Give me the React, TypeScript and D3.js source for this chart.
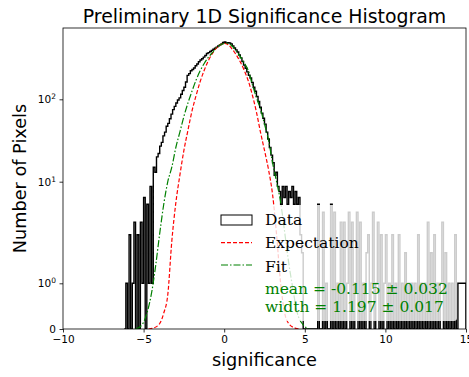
import React, { useEffect, useRef } from "react";
import * as d3 from "d3";

// histogram: bins of 0.1 in significance
const binWidth = 0.1;
const coreStart = -6.2;
const coreCounts = [
  0, 1, 0, 3, 0, 1, 4, 0, 3, 0,
  4, 1, 7, 0, 6, 1, 9, 1, 15, 13,
  20, 22, 27, 30, 36, 40, 47, 51, 58, 66,
  75, 82, 90, 98, 104, 115, 128, 140, 162, 195,
  205, 222, 230, 240, 255, 268, 285, 300, 310, 325,
  340, 360, 368, 380, 392, 405, 418, 430, 445, 458,
  470, 488, 496, 480, 486, 482, 470, 445, 420, 398,
  375, 345, 318, 288, 260, 238, 215, 196, 181, 160,
  140, 125, 108, 94, 80, 68, 59, 50, 40, 33,
  26, 21, 17, 12, 13, 9, 8, 6, 9, 7,
  9, 6, 8, 7, 9, 6, 8, 6, 7, 3,
  2, 0,
];
const tailStart = 5.0;
const tailCounts = [
  0, 0, 0, 0, 0, 0, 0, 0, 6, 0,
  0, 5, 0, 1, 0, 0, 6, 0, 5, 0,
  1, 0, 4, 0, 4, 0, 1, 5, 0, 4,
  0, 1, 5, 0, 4, 0, 1, 0, 2, 3,
  0, 1, 5, 0, 1, 4, 0, 3, 0, 1,
  3, 0, 1, 0, 3, 0, 1, 0, 3, 0,
  1, 0, 2, 0, 1, 0, 1, 0, 1, 0,
  3, 0, 1, 0, 1, 0, 4, 0, 2, 0,
  3, 0, 1, 0, 1, 4, 0, 2, 0, 1,
  0, 1, 0, 3, 0, 1, 1, 1, 1, 1,
];

// expectation curve (red)
const expectX = [-4.7, -4.4, -4.0, -3.75, -3.5, -3.25, -3.0, -2.75, -2.5, -2.25, -2.0, -1.75, -1.5, -1.25, -1.0, -0.75, -0.5, -0.25, 0,
  0.25, 0.5, 0.75, 1.0, 1.25, 1.5, 1.75, 2.0, 2.25, 2.5, 2.75, 3.0, 3.25, 3.5, 3.75, 4.0, 4.4, 4.7];
const expectY = [0, 0.02, 0.12, 0.35, 0.75, 2.6, 6.2, 12, 24, 42, 72, 110, 162, 222, 290, 355, 415, 455, 478,
  460, 405, 345, 283, 222, 166, 112, 70, 40, 24, 14, 7.5, 3, 1.0, 0.35, 0.12, 0.02, 0];

// fit curve (green)
const fitX = [-5.5, -5.1, -4.75, -4.5, -4.25, -4.0, -3.75, -3.5, -3.25, -3.0, -2.75, -2.5, -2.25, -2.0, -1.75, -1.5, -1.25, -1.0, -0.75, -0.5, -0.25, 0,
  0.25, 0.5, 0.75, 1.0, 1.25, 1.5, 1.75, 2.0, 2.25, 2.5, 2.75, 3.0, 3.25, 3.5, 3.75, 4.0, 4.25, 4.5, 4.9, 5.3];
const fitY = [0, 0.09, 0.4, 0.8, 1.5, 3.1, 6, 10, 15, 26, 40, 62, 90, 125, 170, 220, 270, 320, 365, 420, 456, 475,
  478, 440, 385, 330, 275, 222, 150, 105, 76, 50, 32, 17, 10, 6.3, 3.2, 1.6, 0.9, 0.4, 0.09, 0];

const xTicks = [-10, -5, 0, 5, 10, 15];
const yTicks = [0, 1, 10, 100];
const legendNames = ["Data", "Expectation", "Fit"];
const fitText = ["mean = -0.115 ± 0.032", "width = 1.197 ± 0.017"];

const W = 469;
const H = 377;
const margin = { top: 28, right: 3, bottom: 48, left: 63 };

function App() {
  const ref = useRef<SVGSVGElement>(null);

  useEffect(() => {
    const root = d3.select(ref.current);
    root.selectAll("*").remove();
    const iw = W - margin.left - margin.right;
    const ih = H - margin.top - margin.bottom;
    const sans = "DejaVu Sans";
    const serif = "DejaVu Serif";

    const x = d3.scaleLinear().domain([-10, 15]).range([0, iw]);
    // symlog-like axis: linear below 1, log above
    const symT = (v: number) => (v <= 1 ? Math.max(0, v) : 1 + Math.log10(v));
    const yLin = d3
      .scaleLinear()
      .domain([0, 1, 2, 3, 3.865])
      .range([ih, ih - 45.7, ih - 147.3, ih - 229.7, 0]);
    const y = (v: number) => yLin(symT(v));

    const svg = root.append("g").attr("transform", `translate(${margin.left},${margin.top})`);

    svg
      .append("defs")
      .append("clipPath")
      .attr("id", "plotclip")
      .append("rect")
      .attr("width", iw)
      .attr("height", ih);

    const plot = svg.append("g").attr("clip-path", "url(#plotclip)");

    // histogram outline (step)
    const bins = [
      ...coreCounts.map((c, i) => ({ x0: coreStart + i * binWidth, c })),
      ...tailCounts.map((c, i) => ({ x0: tailStart + i * binWidth, c })),
    ];
    const pts: [number, number][] = [[bins[0].x0, 0]];
    bins.forEach((b) => {
      pts.push([b.x0, b.c]);
      pts.push([b.x0 + binWidth, b.c]);
    });
    pts.push([bins[bins.length - 1].x0 + binWidth, 0]);
    const stepLine = d3
      .line<[number, number]>()
      .x((d) => x(d[0]))
      .y((d) => y(d[1]));
    plot
      .append("path")
      .attr("d", stepLine(pts))
      .attr("fill", "none")
      .attr("stroke", "black")
      .attr("stroke-width", 1.4);

    const expLine = d3
      .line<number>()
      .x((d) => x(expectX[d]))
      .y((d) => y(expectY[d]))
      .curve(d3.curveMonotoneX);
    plot
      .append("path")
      .attr("d", expLine(d3.range(expectX.length)))
      .attr("fill", "none")
      .attr("stroke", "#ff0000")
      .attr("stroke-width", 1.2)
      .attr("stroke-dasharray", "4,2");

    const fitLine = d3
      .line<number>()
      .x((d) => x(fitX[d]))
      .y((d) => y(fitY[d]))
      .curve(d3.curveMonotoneX);
    plot
      .append("path")
      .attr("d", fitLine(d3.range(fitX.length)))
      .attr("fill", "none")
      .attr("stroke", "#008000")
      .attr("stroke-width", 1.2)
      .attr("stroke-dasharray", "7,2,1.5,2");

    // axes
    const xAxis = svg
      .append("g")
      .attr("transform", `translate(0,${ih})`)
      .call(d3.axisBottom(x).tickValues(xTicks).tickSize(3.5).tickFormat((d) => String(d).replace("-", "\u2212")));
    xAxis.selectAll("text").attr("font-family", sans).attr("font-size", 10.5).attr("fill", "black").attr("dy", "0.75em");

    const yAxis = svg
      .append("g")
      .call(d3.axisLeft(yLin).tickValues(yTicks.map(symT)).tickSize(3.5).tickFormat(() => ""));
    yAxis
      .selectAll(".tick")
      .append("text")
      .attr("x", -7)
      .attr("dy", "0.35em")
      .attr("text-anchor", "end")
      .attr("font-family", sans)
      .attr("font-size", 10.5)
      .attr("fill", "black")
      .each(function (_d, i) {
        const t = d3.select(this);
        const v = yTicks[i];
        if (v === 0) {
          t.text("0");
        } else {
          t.append("tspan").text("10");
          t.append("tspan").attr("font-size", 7.5).attr("dy", "-0.55em").text(String(Math.round(Math.log10(v))));
        }
      });
    svg.selectAll(".tick line").attr("stroke", "black").attr("stroke-width", 0.8);
    svg.selectAll(".domain").remove();

    // frame
    svg
      .append("rect")
      .attr("width", iw)
      .attr("height", ih)
      .attr("fill", "none")
      .attr("stroke", "black")
      .attr("stroke-width", 0.8);

    // legend
    const lg = svg.append("g").attr("transform", `translate(${215 - margin.left},${205 - margin.top})`);
    lg.append("rect")
      .attr("width", 242)
      .attr("height", 116)
      .attr("rx", 3)
      .attr("fill", "white")
      .attr("fill-opacity", 0.8);
    lg.append("rect")
      .attr("x", 6)
      .attr("y", 10)
      .attr("width", 31)
      .attr("height", 10)
      .attr("fill", "white")
      .attr("stroke", "black")
      .attr("stroke-width", 1);
    lg.append("line")
      .attr("x1", 6)
      .attr("x2", 37)
      .attr("y1", 37.7)
      .attr("y2", 37.7)
      .attr("stroke", "#ff0000")
      .attr("stroke-width", 1.2)
      .attr("stroke-dasharray", "4,2");
    lg.append("line")
      .attr("x1", 6)
      .attr("x2", 37)
      .attr("y1", 60)
      .attr("y2", 60)
      .attr("stroke", "#008000")
      .attr("stroke-width", 1.2)
      .attr("stroke-dasharray", "7,2,1.5,2");
    const baselines = [20, 43.3, 66.7];
    legendNames.forEach((n, i) => {
      lg.append("text")
        .attr("x", 50)
        .attr("y", baselines[i])
        .attr("font-family", serif)
        .attr("font-size", 15.5)
        .attr("fill", "black")
        .text(n);
    });
    const fitBaselines = [88.5, 106.7];
    fitText.forEach((s, i) => {
      lg.append("text")
        .attr("x", 50)
        .attr("y", fitBaselines[i])
        .attr("font-family", serif)
        .attr("font-size", 15.5)
        .attr("fill", "#008000")
        .text(s);
    });

    // labels
    root
      .append("text")
      .attr("x", margin.left + iw / 2)
      .attr("y", 22.5)
      .attr("text-anchor", "middle")
      .attr("font-family", sans)
      .attr("font-size", 18.9)
      .text("Preliminary 1D Significance Histogram");
    root
      .append("text")
      .attr("x", margin.left + iw / 2)
      .attr("y", 366)
      .attr("text-anchor", "middle")
      .attr("font-family", sans)
      .attr("font-size", 17.7)
      .text("significance");
    root
      .append("text")
      .attr("transform", `translate(26,${margin.top + ih / 2}) rotate(-90)`)
      .attr("text-anchor", "middle")
      .attr("font-family", sans)
      .attr("font-size", 17.7)
      .text("Number of Pixels");
  }, []);

  return (
    <svg
      ref={ref}
      width={W}
      height={H}
      style={{ position: "absolute", left: 0, top: 0, background: "white" }}
    />
  );
}

export default App;
